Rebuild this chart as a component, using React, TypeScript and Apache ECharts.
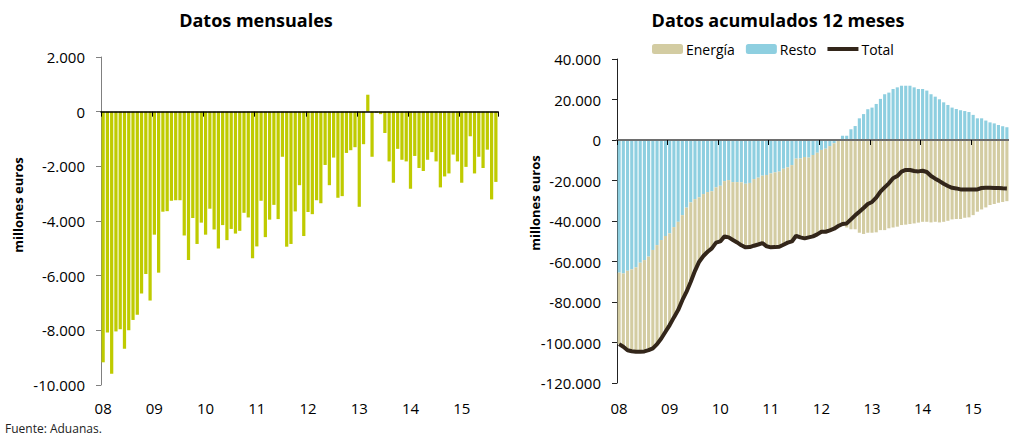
import React, { useEffect, useRef } from "react";
import * as echarts from "echarts";

const years = ["08", "09", "10", "11", "12", "13", "14", "15"];
const monthsPerYear = [12, 12, 12, 12, 12, 12, 12, 9];
const categories: string[] = [];
years.forEach((y, k) => {
  for (let m = 1; m <= monthsPerYear[k]; m++) categories.push(y + "-" + (m < 10 ? "0" + m : "" + m));
});

const leftTicks = [2000, 0, -2000, -4000, -6000, -8000, -10000];
const rightTicks = [40000, 20000, 0, -20000, -40000, -60000, -80000, -100000, -120000];

const mensual = [
  -9170, -8080, -9590, -8040, -7960, -8670, -8000, -7620, -7430, -6650, -5940, -6910,
  -4500, -5890, -3660, -3640, -3260, -3240, -3240, -4530, -5430, -3890, -4840, -4060,
  -4500, -3550, -4310, -5010, -4150, -4700, -4290, -4460, -4360, -3700, -3870, -5360,
  -4930, -3260, -4590, -3950, -3410, -3930, -1650, -4940, -4840, -3650, -2690, -4550,
  -3670, -3750, -3240, -3350, -1950, -2690, -1680, -3150, -3090, -1510, -1410, -1300,
  -3480, -1190, 620, -1650, -40, -90, -780, -1820, -2600, -1360, -1760, -1820,
  -2820, -1620, -2060, -2170, -1760, -1480, -1820, -2770, -2370, -2260, -1570, -1820,
  -2600, -2020, -900, -2260, -1650, -2060, -1390, -3210, -2570,
];

const resto = [
  -65500, -65900, -64600, -63900, -62900, -60600, -59300, -57600, -54300, -51900, -49400, -47400,
  -46100, -43000, -40400, -37100, -33400, -30800, -29200, -28300, -26700, -25700, -25300, -23400,
  -22600, -20300, -19800, -20800, -20800, -20900, -21600, -21200, -19300, -18600, -17600, -17300,
  -16500, -16000, -15600, -14200, -13500, -12400, -9200, -9100, -8400, -8700, -7400, -6300,
  -4900, -4300, -3000, -1600, -300, 2100, 2100, 5300, 6900, 10700, 12800, 15200,
  16000, 17800, 20300, 22600, 23400, 25200, 26000, 26800, 26800, 26800, 26000, 25200,
  25200, 24400, 22600, 21400, 20100, 18600, 17300, 16000, 15300, 14700, 14300, 13800,
  12400, 10700, 10700, 9600, 8700, 8200, 7400, 6800, 6300,
];

const energia = [
  -35300, -36200, -39200, -40400, -41700, -44000, -45100, -46200, -48600, -48900, -48600, -47300,
  -45300, -44600, -43600, -42000, -41500, -39200, -35400, -31800, -30600, -29500, -28200, -27300,
  -27500, -27300, -28300, -28600, -29800, -31100, -31400, -31700, -32900, -33000, -33300, -35200,
  -36500, -36900, -37100, -37500, -37200, -37700, -38100, -39000, -40200, -39400, -40200, -40300,
  -40400, -41000, -41600, -42200, -42200, -42500, -43200, -44100, -44100, -45800, -46400, -45800,
  -45800, -45600, -44500, -44500, -43600, -43200, -42800, -42000, -41800, -41500, -41200, -40800,
  -40400, -40400, -40700, -40400, -40700, -40400, -39900, -39200, -39000, -39000, -38400, -38200,
  -37100, -35400, -34300, -33300, -32100, -31600, -31000, -30600, -30200,
];

const total = [
  -100800, -102100, -103800, -104300, -104600, -104600, -104400, -103800, -102900, -100800, -98000, -94700,
  -91400, -87600, -84000, -79100, -74900, -70000, -64600, -60100, -57300, -55200, -53500, -50700,
  -50100, -47600, -48100, -49400, -50600, -52000, -53000, -52900, -52200, -51600, -50900, -52500,
  -53000, -52900, -52700, -51700, -50700, -50100, -47300, -48100, -48600, -48100, -47600, -46600,
  -45300, -45300, -44600, -43800, -42500, -41500, -41200, -39200, -37200, -35400, -33600, -31600,
  -30600, -28500, -25500, -23400, -21400, -18900, -17800, -15600, -14800, -14800, -15300, -15500,
  -15200, -15800, -17800, -19100, -20300, -21600, -22700, -23600, -23900, -24400, -24400, -24400,
  -24400, -24400, -23700, -23600, -23600, -23700, -23700, -23800, -23900,
];

const FONT = "'Open Sans', Lato, sans-serif";

const fmt = (v: number) => {
  const s = Math.abs(v).toString().replace(/\B(?=(\d{3})+(?!\d))/g, ".");
  return (v < 0 ? "-" : "") + s;
};

const yearTick = (i: number) => i % 12 === 0;

function zeroAxis(gridIndex: number, color: string, width: number) {
  return {
    type: "category",
    gridIndex,
    data: categories,
    position: "bottom",
    boundaryGap: true,
    z: 10,
    axisLine: { show: true, onZero: true, lineStyle: { color, width } },
    axisTick: { show: true, interval: yearTick, length: 5, lineStyle: { color: "#000", width: 1 } },
    axisLabel: { show: false },
    splitLine: { show: false },
  };
}

function labelAxis(gridIndex: number, margin: number) {
  return {
    type: "category",
    gridIndex,
    data: categories,
    position: "bottom",
    boundaryGap: true,
    axisLine: { show: false, onZero: false },
    axisTick: { show: false },
    splitLine: { show: false },
    axisLabel: {
      show: true,
      interval: yearTick,
      margin,
      formatter: (v: string) => v.slice(0, 2),
      fontFamily: FONT,
      fontSize: 15,
      color: "#000",
    },
  };
}

function valueAxis(gridIndex: number, ticks: number[], lineColor: string) {
  const min = ticks[ticks.length - 1];
  const max = ticks[0];
  const interval = ticks[0] - ticks[1];
  return {
    type: "value",
    gridIndex,
    min,
    max,
    interval,
    axisLine: { show: true, lineStyle: { color: lineColor, width: 1 } },
    axisTick: { show: true, inside: false, length: 5, lineStyle: { color: lineColor } },
    splitLine: { show: false },
    axisLabel: { margin: 16, formatter: (v: number) => fmt(v), fontFamily: FONT, fontSize: 15, color: "#000" },
  };
}

export default function App() {
  const ref = useRef<HTMLDivElement>(null);
  useEffect(() => {
    if (!ref.current) return;
    const chart = echarts.init(ref.current, undefined, { renderer: "svg" });
    const option: any = {
      animation: false,
      backgroundColor: "#fff",
      textStyle: { fontFamily: FONT },
      grid: [
        { left: 101, top: 57, width: 397, height: 328 },
        { left: 617, top: 59, width: 401, height: 324 },
      ],
      xAxis: [zeroAxis(0, "#000", 1.5), labelAxis(0, 15), zeroAxis(1, "#6e6e6e", 2), labelAxis(1, 17)],
      yAxis: [valueAxis(0, leftTicks, "#808080"), valueAxis(1, rightTicks, "#222")],
      legend: {
        data: [
          { name: "Energía" },
          { name: "Resto" },
          { name: "Total", icon: "path://M0 0H100V13H0Z", itemStyle: { color: "#33261A" } },
        ],
        left: 652,
        top: 42,
        padding: 0,
        itemWidth: 31,
        itemHeight: 10,
        itemGap: 11,
        textStyle: { fontFamily: FONT, fontSize: 14, color: "#000", padding: [0, 0, 0, -2] },
      },
      series: [
        {
          type: "bar",
          name: "Mensual",
          xAxisIndex: 0,
          yAxisIndex: 0,
          data: mensual,
          barCategoryGap: "24%",
          itemStyle: { color: "#BFCB00" },
        },
        {
          type: "bar",
          name: "Resto",
          xAxisIndex: 2,
          yAxisIndex: 1,
          stack: "acum",
          data: resto,
          barCategoryGap: "26%",
          itemStyle: { color: "#8ECFE0" },
        },
        {
          type: "bar",
          name: "Energía",
          xAxisIndex: 2,
          yAxisIndex: 1,
          stack: "acum",
          data: energia,
          barCategoryGap: "26%",
          itemStyle: { color: "#D3CCA2" },
        },
        {
          type: "line",
          name: "Total",
          xAxisIndex: 2,
          yAxisIndex: 1,
          data: total,
          symbol: "none",
          showSymbol: false,
          z: 12,
          lineStyle: { color: "#33261A", width: 4 },
          itemStyle: { color: "#33261A" },
        },
      ],
      graphic: [
        {
          type: "text",
          x: 256,
          y: 20,
          style: { text: "Datos mensuales", font: `bold 18px ${FONT}`, fill: "#000", textAlign: "center", textVerticalAlign: "middle" },
        },
        {
          type: "text",
          x: 778,
          y: 20,
          style: { text: "Datos acumulados 12 meses", font: `bold 18px ${FONT}`, fill: "#000", textAlign: "center", textVerticalAlign: "middle" },
        },
        {
          type: "text",
          x: 18,
          y: 205,
          rotation: Math.PI / 2,
          style: { text: "millones euros", font: `bold 13px ${FONT}`, fill: "#000", textAlign: "center", textVerticalAlign: "middle" },
        },
        {
          type: "text",
          x: 535,
          y: 203,
          rotation: Math.PI / 2,
          style: { text: "millones euros", font: `bold 13px ${FONT}`, fill: "#000", textAlign: "center", textVerticalAlign: "middle" },
        },
        {
          type: "text",
          x: 5,
          y: 428,
          style: { text: "Fuente: Aduanas.", font: `12px ${FONT}`, fill: "#222", textAlign: "left", textVerticalAlign: "middle" },
        },
      ],
    };
    chart.setOption(option);
    return () => chart.dispose();
  }, []);
  return (
    <div
      ref={ref}
      style={{ position: "fixed", left: 0, top: 0, width: 1009, height: 437, background: "#fff" }}
    />
  );
}
